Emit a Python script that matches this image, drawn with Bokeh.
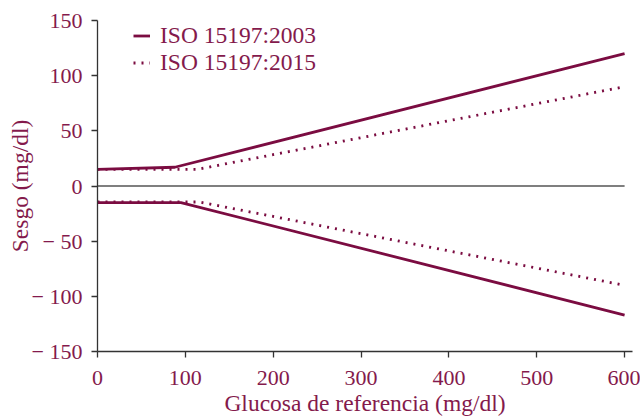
from bokeh.plotting import figure
from bokeh.models import (Legend, LegendItem, SingleIntervalTicker,
                          CustomJSTickFormatter, Range1d)
from bokeh.embed import file_html
from bokeh.resources import INLINE

# Data
glucosa_2003_sup = [0, 88, 600]
sesgo_2003_sup = [15, 17, 120]
glucosa_2003_inf = [0, 95, 600]
sesgo_2003_inf = [-15, -15, -117]
glucosa_2015_sup = [0, 113, 600]
sesgo_2015_sup = [15, 15, 90]
glucosa_2015_inf = [0, 116, 600]
sesgo_2015_inf = [-14.5, -14.5, -90]
linea_cero_x = [0, 600]
linea_cero_y = [0, 0]
etiquetas = ["ISO 15197:2003", "ISO 15197:2015"]

COL = "#7b0c41"
TXT = "#841a4c"
FONT = "Liberation Serif"

W, H = 640, 418
TOP, BOTTOM, LEFT, RIGHT = 20, 65, 97, 8
frame_h = H - TOP - BOTTOM

p = figure(width=W, height=H, output_backend="svg", toolbar_location=None,
           x_range=Range1d(0, 609), y_range=Range1d(-150, 150),
           min_border_left=LEFT, min_border_right=RIGHT,
           min_border_top=TOP, min_border_bottom=BOTTOM)
p.outline_line_color = None
p.xgrid.visible = False
p.ygrid.visible = False
p.background_fill_color = "white"

p.line(linea_cero_x, linea_cero_y, line_color="#555555", line_width=1.3)

r1 = p.line(glucosa_2003_sup, sesgo_2003_sup, line_color=COL, line_width=2.8)
p.line(glucosa_2003_inf, sesgo_2003_inf, line_color=COL, line_width=2.8)
r2 = p.line(glucosa_2015_sup, sesgo_2015_sup, line_color=COL, line_width=2.8,
            line_dash="2 6")
p.line(glucosa_2015_inf, sesgo_2015_inf, line_color=COL, line_width=2.8,
       line_dash="2 6")

for ax in (p.xaxis[0], p.yaxis[0]):
    ax.axis_line_color = "#333333"
    ax.axis_line_width = 1.3
    ax.major_tick_line_color = "#333333"
    ax.major_tick_line_width = 1.3
    ax.major_tick_out = 6
    ax.major_tick_in = 0
    ax.minor_tick_line_color = None
    ax.major_label_text_font = FONT
    ax.major_label_text_font_size = "22px"
    ax.major_label_text_color = TXT
    ax.axis_label_text_font = FONT
    ax.axis_label_text_font_size = "23.5px"
    ax.axis_label_text_color = TXT
    ax.axis_label_text_font_style = "normal"

p.xaxis.ticker = SingleIntervalTicker(interval=100)
p.yaxis.ticker = SingleIntervalTicker(interval=50)
p.yaxis.formatter = CustomJSTickFormatter(
    code="return tick < 0 ? '\\u2212 ' + Math.abs(tick) : String(tick);")
p.xaxis.axis_label = "Glucosa de referencia (mg/dl)"
p.yaxis.axis_label = "Sesgo (mg/dl)"
p.xaxis.major_label_standoff = 13
p.xaxis.axis_label_standoff = 2
p.yaxis.major_label_standoff = 9
p.yaxis.axis_label_standoff = -4

legend = Legend(items=[LegendItem(label=etiquetas[0], renderers=[r1]),
                       LegendItem(label=etiquetas[1], renderers=[r2])],
                location=(36, frame_h - 58))
legend.label_text_font = FONT
legend.label_text_font_size = "23.5px"
legend.label_text_color = TXT
legend.label_height = 27
legend.glyph_height = 27
legend.glyph_width = 17
legend.label_standoff = 10
legend.spacing = 0
legend.padding = 0
legend.margin = 0
legend.border_line_alpha = 0
legend.background_fill_alpha = 0
p.add_layout(legend, "center")

open("out.html", "w").write(file_html(p, INLINE))
